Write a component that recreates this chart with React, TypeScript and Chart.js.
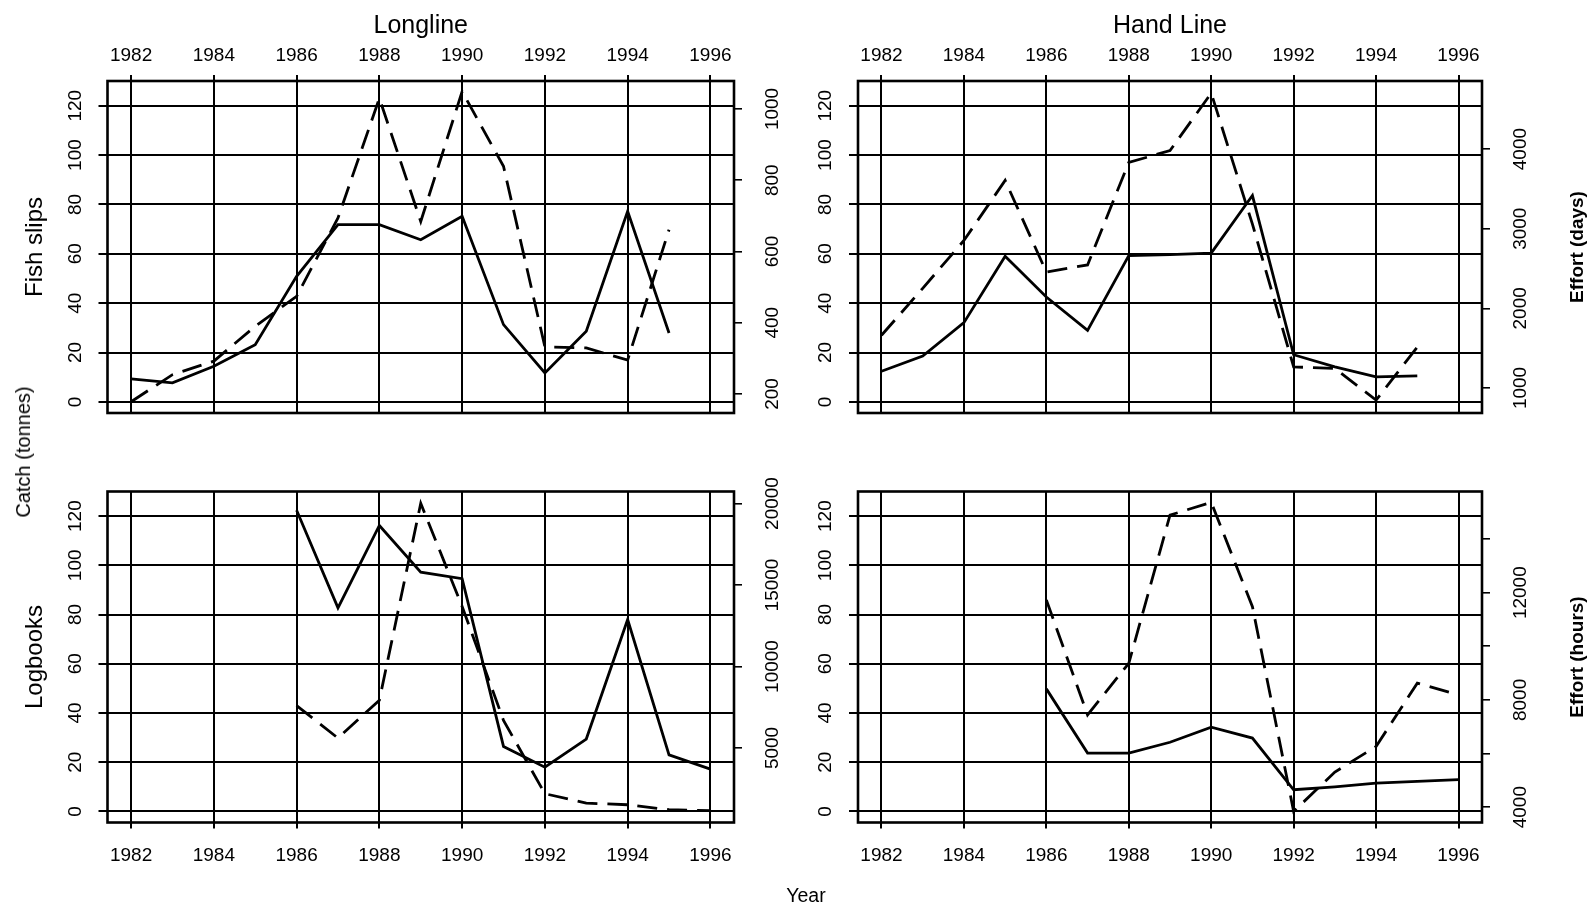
import React, { useEffect, useRef } from 'react';
import { Chart, registerables } from 'chart.js';

Chart.register(...registerables);

const FONT = '"Liberation Sans", Arial, Helvetica, sans-serif';
Chart.defaults.font.family = FONT;

// ---- data ----
const yearTicks = [1982, 1984, 1986, 1988, 1990, 1992, 1994, 1996];
const catchTicks = [0, 20, 40, 60, 80, 100, 120];

const yearsFishSlips = [1982, 1983, 1984, 1985, 1986, 1987, 1988, 1989, 1990, 1991, 1992, 1993, 1994, 1995];
const yearsLogbooks = [1986, 1987, 1988, 1989, 1990, 1991, 1992, 1993, 1994, 1995, 1996];

// Longline, fish slips: catch (tonnes) and effort (days)
const longlineSlipsCatch = [9.3, 7.7, 14.4, 23.2, 50.9, 71.8, 71.8, 65.7, 75.2, 31.3, 11.7, 28.6, 77.2, 27.9];
const longlineSlipsEffort = [178, 254, 292, 390, 474, 694, 1030, 684, 1049, 839, 332, 329, 295, 661];
// Hand line, fish slips
const handlineSlipsCatch = [12.4, 18.6, 32.1, 59.0, 42.5, 29.0, 59.3, 59.7, 60.3, 83.6, 19.1, 14.2, 10.1, 10.5];
const handlineSlipsEffort = [1662, 2251, 2852, 3606, 2456, 2545, 3832, 3981, 4703, 3057, 1265, 1244, 847, 1513];
// Longline, logbooks
const longlineLogCatch = [122.4, 82.7, 116.2, 97.2, 94.6, 26.4, 18.0, 29.4, 78.0, 23.0, 17.2];
const longlineLogEffort = [7600, 5607, 7932, 20012, 13685, 6694, 2194, 1620, 1515, 1213, 1152];
// Hand line, logbooks: effort (hours)
const handlineLogCatch = [49.8, 23.7, 23.7, 28.1, 34.2, 29.8, 8.8, 10.0, 11.5, 12.2, 12.9];
const handlineLogEffort = [11726, 7439, 9366, 14893, 15370, 11478, 3840, 5309, 6264, 8623, 8191];

const longlineSlipsEffortTicks = [200, 400, 600, 800, 1000];
const handlineSlipsEffortTicks = [1000, 2000, 3000, 4000];
const longlineLogEffortTicks = [5000, 10000, 15000, 20000];
const handlineLogEffortTicks = [4000, 6000, 8000, 10000, 12000, 14000];
const handlineLogEffortLabels = [4000, 8000, 12000];

type PanelSpec = {
  left: number; top: number; w: number; h: number;
  yw: number; y2w: number; xh: number; padTop: number; padBottom: number;
  xPos: 'top' | 'bottom';
  years: number[]; catchVals: number[]; effortVals: number[];
  effortMin: number; effortMax: number; effortTicks: number[]; effortLabels: number[];
  title?: string; rowLabel?: string; effortTitle?: string;
};

const panels: PanelSpec[] = [
  {
    left: 0, top: 0, w: 800, h: 452, yw: 107.5, y2w: 66, xh: 81, padTop: 0, padBottom: 39, xPos: 'top',
    years: yearsFishSlips, catchVals: longlineSlipsCatch, effortVals: longlineSlipsEffort,
    effortMin: 146.4, effortMax: 1078.5, effortTicks: longlineSlipsEffortTicks, effortLabels: longlineSlipsEffortTicks,
    title: 'Longline', rowLabel: 'Fish slips',
  },
  {
    left: 800, top: 0, w: 792, h: 452, yw: 58, y2w: 110, xh: 81, padTop: 0, padBottom: 39, xPos: 'top',
    years: yearsFishSlips, catchVals: handlineSlipsCatch, effortVals: handlineSlipsEffort,
    effortMin: 685.5, effortMax: 4855, effortTicks: handlineSlipsEffortTicks, effortLabels: handlineSlipsEffortTicks,
    title: 'Hand Line', effortTitle: 'Effort (days)',
  },
  {
    left: 0, top: 452, w: 800, h: 453, yw: 107.5, y2w: 66, xh: 82.5, padTop: 39.5, padBottom: 0, xPos: 'bottom',
    years: yearsLogbooks, catchVals: longlineLogCatch, effortVals: longlineLogEffort,
    effortMin: 427.5, effortMax: 20737, effortTicks: longlineLogEffortTicks, effortLabels: longlineLogEffortTicks,
    rowLabel: 'Logbooks',
  },
  {
    left: 800, top: 452, w: 792, h: 453, yw: 58, y2w: 110, xh: 82.5, padTop: 39.5, padBottom: 0, xPos: 'bottom',
    years: yearsLogbooks, catchVals: handlineLogCatch, effortVals: handlineLogEffort,
    effortMin: 3427, effortMax: 15774, effortTicks: handlineLogEffortTicks, effortLabels: handlineLogEffortLabels,
    effortTitle: 'Effort (hours)',
  },
];

function rotText(ctx: CanvasRenderingContext2D, text: string, x: number, y: number) {
  ctx.save();
  ctx.translate(x, y);
  ctx.rotate(-Math.PI / 2);
  ctx.fillText(text, 0, 0);
  ctx.restore();
}

function makeDecor(p: PanelSpec) {
  return {
    id: 'panelDecor',
    afterDraw(chart: any) {
      const { ctx, chartArea: a, scales } = chart;
      ctx.save();
      ctx.strokeStyle = '#000';
      ctx.lineWidth = 2.6;
      ctx.strokeRect(a.left, a.top, a.right - a.left, a.bottom - a.top);

      ctx.fillStyle = '#000';
      ctx.textAlign = 'center';
      ctx.textBaseline = 'middle';
      ctx.font = `19px ${FONT}`;
      const ly = p.xPos === 'top' ? a.top - 25 : a.bottom + 33;
      yearTicks.forEach((v) => ctx.fillText(String(v), scales.x.getPixelForValue(v), ly));
      catchTicks.forEach((v) => rotText(ctx, String(v), a.left - 32, scales.y.getPixelForValue(v)));
      p.effortLabels.forEach((v) => rotText(ctx, String(v), a.right + 39, scales.y2.getPixelForValue(v)));

      const cy = (a.top + a.bottom) / 2;
      if (p.rowLabel) {
        ctx.font = `24px ${FONT}`;
        rotText(ctx, p.rowLabel, 35, cy);
      }
      if (p.effortTitle) {
        ctx.font = `bold 19px ${FONT}`;
        rotText(ctx, p.effortTitle, 778, cy);
      }
      if (p.title) {
        ctx.font = `25px ${FONT}`;
        ctx.textBaseline = 'alphabetic';
        ctx.fillText(p.title, (a.left + a.right) / 2, 33);
      }
      ctx.restore();
    },
  };
}

function Panel({ p }: { p: PanelSpec }) {
  const ref = useRef<HTMLCanvasElement | null>(null);
  useEffect(() => {
    if (!ref.current) return;
    const chart = new Chart(ref.current, {
      type: 'line',
      data: {
        datasets: [
          {
            data: p.years.map((x, i) => ({ x, y: p.catchVals[i] })),
            yAxisID: 'y',
            borderColor: '#000',
            borderWidth: 2.8,
            pointRadius: 0,
            tension: 0,
            fill: false,
          },
          {
            data: p.years.map((x, i) => ({ x, y: p.effortVals[i] })),
            yAxisID: 'y2',
            borderColor: '#000',
            borderWidth: 2.8,
            borderDash: [20, 10],
            pointRadius: 0,
            tension: 0,
            fill: false,
          },
        ],
      },
      options: {
        animation: false,
        responsive: false,
        events: [],
        layout: { padding: { top: p.padTop, bottom: p.padBottom, left: 0, right: 0 } },
        plugins: { legend: { display: false }, tooltip: { enabled: false }, title: { display: false } },
        scales: {
          x: {
            type: 'linear',
            position: p.xPos,
            min: 1981.43,
            max: 1996.57,
            afterBuildTicks: (s: any) => { s.ticks = yearTicks.map((v) => ({ value: v })); },
            afterFit: (s: any) => { s.height = p.xh; },
            ticks: { display: false },
            grid: { color: '#000', lineWidth: 2, tickLength: 6, drawTicks: true },
            border: { display: false },
          },
          y: {
            type: 'linear',
            position: 'left',
            min: -4.5,
            max: 130,
            afterBuildTicks: (s: any) => { s.ticks = catchTicks.map((v) => ({ value: v })); },
            afterFit: (s: any) => { s.width = p.yw; },
            ticks: { display: false },
            grid: { color: '#000', lineWidth: 2, tickLength: 9, drawTicks: true },
            border: { display: false },
          },
          y2: {
            type: 'linear',
            position: 'right',
            min: p.effortMin,
            max: p.effortMax,
            afterBuildTicks: (s: any) => { s.ticks = p.effortTicks.map((v) => ({ value: v })); },
            afterFit: (s: any) => { s.width = p.y2w; },
            ticks: { display: false },
            grid: { drawOnChartArea: false, color: '#000', lineWidth: 1.6, tickLength: 8, drawTicks: true },
            border: { display: false },
          },
        },
      } as any,
      plugins: [makeDecor(p)],
    });
    return () => chart.destroy();
  }, [p]);
  return (
    <canvas
      ref={ref}
      width={p.w}
      height={p.h}
      style={{ position: 'absolute', left: p.left, top: p.top, width: p.w, height: p.h }}
    />
  );
}

export default function App() {
  return (
    <div style={{ position: 'absolute', left: 0, top: 0, width: 1592, height: 905, overflow: 'hidden', background: '#fff', fontFamily: FONT }}>
      {panels.map((p, i) => (
        <Panel key={i} p={p} />
      ))}
      <div
        style={{
          position: 'absolute', left: 23, top: 452, transform: 'translate(-50%, -50%) rotate(-90deg)',
          fontSize: 20, lineHeight: '20px', whiteSpace: 'nowrap', color: '#000',
        }}
      >
        Catch (tonnes)
      </div>
      <div
        style={{
          position: 'absolute', left: 806, top: 895, transform: 'translate(-50%, -50%)',
          fontSize: 19.5, lineHeight: '20px', whiteSpace: 'nowrap', color: '#000',
        }}
      >
        Year
      </div>
    </div>
  );
}
